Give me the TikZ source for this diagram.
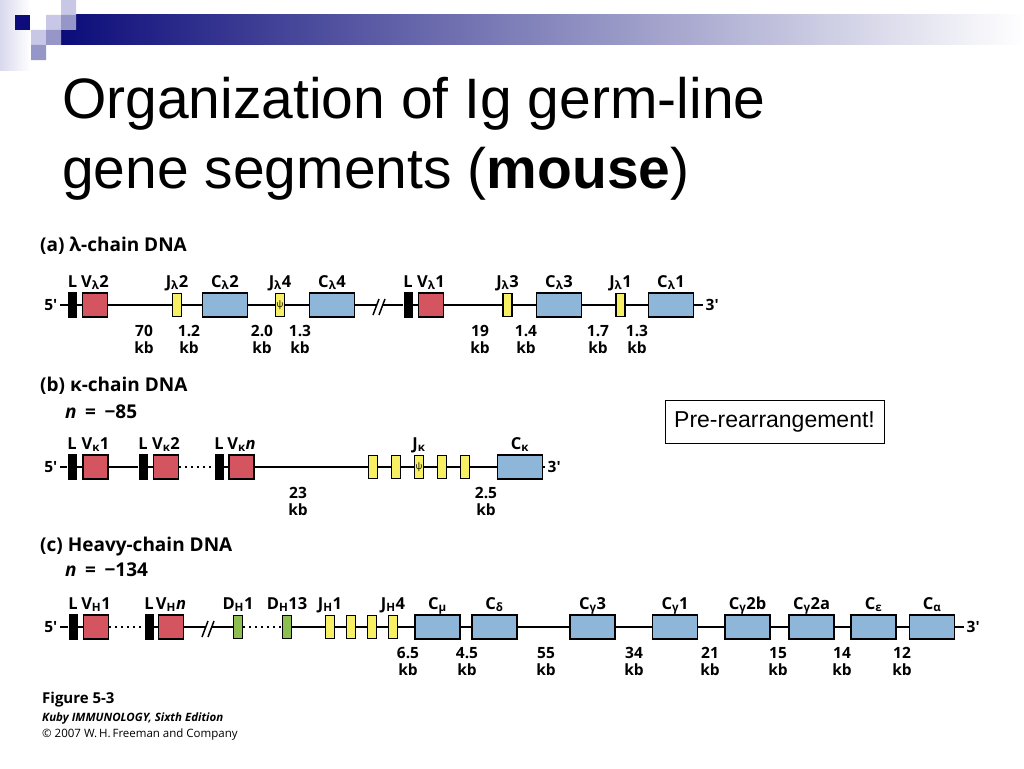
\documentclass[tikz,border=0pt]{standalone}
\usepackage{fontspec}
\setmainfont{Liberation Sans}
\newfontfamily\figfont{Open Sans}
\usepackage{tikz}
\definecolor{navy}{RGB}{12,12,122}
\definecolor{midgrey}{RGB}{150,150,178}
\definecolor{lav}{RGB}{200,200,230}
\definecolor{mlav}{RGB}{150,150,200}
\definecolor{vred}{RGB}{212,84,96}
\definecolor{jyel}{RGB}{247,240,100}
\definecolor{cblu}{RGB}{142,182,216}
\definecolor{dgrn}{RGB}{140,190,80}
\newcommand{\sbs}[1]{\textsubscript{#1}}
\begin{document}
\begin{tikzpicture}[x=1pt,y=-1pt,
  dna/.style={line width=1.8pt},
  dotline/.style={line width=1.6pt,dash pattern=on 1.6pt off 4.4pt},
  seg/.style={draw=black,line width=1.3pt,inner sep=0pt,minimum height=24pt},
  lbar/.style={fill=black,inner sep=0pt,minimum width=9pt,minimum height=26pt},
  vbox/.style={seg,fill=vred,minimum width=25pt},
  jbox/.style={seg,fill=jyel,minimum width=9pt,minimum height=23pt},
  dbox/.style={seg,fill=dgrn,minimum width=9pt,minimum height=23pt},
  cbox/.style={seg,fill=cblu,minimum width=45pt},
  lab/.style={font=\figfont\bfseries\fontsize{16.5}{18}\selectfont,inner sep=0pt,anchor=base},
  dist/.style={font=\figfont\bfseries\fontsize{15.5}{17}\selectfont,inner sep=0pt,align=center},
  prime/.style={font=\figfont\bfseries\fontsize{15.5}{17}\selectfont,inner sep=2.5pt},
  head/.style={font=\figfont\bfseries\fontsize{19}{22}\selectfont,inner sep=0pt,anchor=base west},
  psi/.style={font=\figfont\fontsize{9}{9}\selectfont,inner sep=0pt}]%Ig germ-line, mouse
\useasboundingbox (0,0) rectangle (1024,768);
\fill[white] (0,0) rectangle (1024,768);
\shade[left color=lav!70,right color=white] (0,0) rectangle (30,70);
\shade[left color=navy,middle color=midgrey,right color=white] (61,15) rectangle (1024,45);
\fill[navy] (15,15) rectangle (30,30);
\fill[lav] (61,0) rectangle (76,15) (46,15) rectangle (61,30) (31,30) rectangle (46,45);
\fill[mlav] (61,15) rectangle (76,30) (46,30) rectangle (61,45) (31,45) rectangle (46,60);
\node[anchor=base west,inner sep=0pt,font=\fontsize{57}{70}\selectfont] (title1) at (62,118) {Organization of Ig germ-line};
\node[anchor=base west,inner sep=0pt,font=\fontsize{57}{70}\selectfont] (title2) at (62,188) {gene segments (\textbf{mouse})};

% (a) lambda
\node[head] (ha) at (40,251) {(a) λ-chain DNA};
\node[prime,anchor=east] (fa) at (60,305) {5′};
\node[lbar] (La) at (72.5,305) {};
\node[vbox] (Va2) at (95,305) {};
\node[jbox] (Ja2) at (177,305) {};
\node[cbox] (Ca2) at (225,305) {};
\node[jbox] (Ja4) at (280,305) {};
\node[cbox] (Ca4) at (332,305) {};
\coordinate (ba1) at (376,305);
\coordinate (ba2) at (382,305);
\node[lbar] (La1) at (408,305) {};
\node[vbox] (Va1) at (431,305) {};
\node[jbox] (Ja3) at (507.5,305) {};
\node[cbox] (Ca3) at (559,305) {};
\node[jbox] (Ja1) at (620.5,305) {};
\node[cbox] (Ca1) at (671,305) {};
\node[prime,anchor=west] (ta) at (703,305) {3′};
\node[psi] (psa) at (Ja4) {ψ};
\foreach \a/\b in {fa/La,La/Va2,Va2/Ja2,Ja2/Ca2,Ca2/Ja4,Ja4/Ca4,Ca4/ba1,ba2/La1,La1/Va1,Va1/Ja3,Ja3/Ca3,Ca3/Ja1,Ja1/Ca1,Ca1/ta}
  \draw[dna] (\a) -- (\b);
\draw[line width=1.5pt] ([shift={(-3,10)}]ba1) -- ([shift={(3,-6)}]ba1) ([shift={(-3,10)}]ba2) -- ([shift={(3,-6)}]ba2);
\foreach \n/\t in {La/L,Va2/V\sbs{λ}2,Ja2/J\sbs{λ}2,Ca2/C\sbs{λ}2,Ja4/J\sbs{λ}4,Ca4/C\sbs{λ}4,La1/L,Va1/V\sbs{λ}1,Ja3/J\sbs{λ}3,Ca3/C\sbs{λ}3,Ja1/J\sbs{λ}1,Ca1/C\sbs{λ}1}
  \node[lab] (t\n) at (\n |- 0,287) {\t};
\foreach \x/\d in {144/70,189/1.2,262/2.0,300/1.3,480/19,526/1.4,598/1.7,637/1.3}
  \node[dist] (da\x) at (\x,342) {\strut\d\\\strut kb};

% (b) kappa
\node[head] (hb) at (40,391) {(b) κ-chain DNA};
\node[head] (nb) at (65,418) {\textit{n}\hspace{0.45em}=\hspace{0.45em}−85};
\node[prime,anchor=east] (fb) at (60,467) {5′};
\node[lbar] (Lb1) at (72,467) {};
\node[vbox] (Vb1) at (95.5,467) {};
\node[lbar] (Lb2) at (143,467) {};
\node[vbox] (Vb2) at (166,467) {};
\node[lbar] (Lbn) at (219,467) {};
\node[vbox] (Vbn) at (241.5,467) {};
\foreach \i/\x in {1/373,2/396,3/419,4/442,5/465}
  \node[jbox] (Jb\i) at (\x,467) {};
\node[cbox] (Cb) at (520,467) {};
\node[prime,anchor=west] (tb) at (545,467) {3′};
\node[psi] (psb) at (Jb3) {ψ};
\foreach \a/\b in {fb/Lb1,Lb1/Vb1,Vb1/Lb2,Lb2/Vb2,Lbn/Vbn,Vbn/Jb1,Jb1/Jb2,Jb2/Jb3,Jb3/Jb4,Jb4/Jb5,Jb5/Cb,Cb/tb}
  \draw[dna] (\a) -- (\b);
\draw[dotline] (Vb2) -- (Lbn);
\foreach \n/\t in {Lb1/L,Vb1/V\sbs{κ}1,Lb2/L,Vb2/V\sbs{κ}2,Lbn/L,Vbn/V\sbs{κ}\textit{n},Jb3/J\sbs{κ},Cb/C\sbs{κ}}
  \node[lab] (t\n) at (\n |- 0,449) {\t};
\foreach \x/\d in {298/23,486/2.5}
  \node[dist] (db\x) at (\x,504) {\strut\d\\\strut kb};
\node[draw,line width=1pt,minimum width=219pt,minimum height=43pt,inner sep=0pt,font=\fontsize{23}{27}\selectfont] (pre) at (774.5,421.5) {Pre-rearrangement!};

% (c) heavy chain
\node[head] (hc) at (40,551) {(c) Heavy-chain DNA};
\node[head] (nc) at (65,576) {\textit{n}\hspace{0.45em}=\hspace{0.45em}−134};
\node[prime,anchor=east] (fc) at (60,627) {5′};
\node[lbar] (Lc1) at (73,627) {};
\node[vbox] (Vc1) at (96,627) {};
\node[lbar] (Lc2) at (149,627) {};
\node[vbox] (Vcn) at (171,627) {};
\coordinate (bc1) at (205,627);
\coordinate (bc2) at (211,627);
\node[dbox] (Dc1) at (238,627) {};
\node[dbox] (Dc13) at (287,627) {};
\foreach \i/\x in {1/330,2/351,3/372,4/393}
  \node[jbox] (Jc\i) at (\x,627) {};
\foreach \n/\x in {Cmu/437.5,Cdel/494.5,Cg3/592.5,Cg1/675,Cg2b/747.5,Cg2a/811.5,Ceps/873.5,Calp/932}
  \node[cbox] (\n) at (\x,627) {};
\node[prime,anchor=west] (tc) at (964,627) {3′};
\foreach \a/\b in {fc/Lc1,Lc1/Vc1,Lc2/Vcn,Vcn/bc1,bc2/Dc1,Dc13/Jc1,Jc1/Jc2,Jc2/Jc3,Jc3/Jc4,Jc4/Cmu,Cmu/Cdel,Cdel/Cg3,Cg3/Cg1,Cg1/Cg2b,Cg2b/Cg2a,Cg2a/Ceps,Ceps/Calp,Calp/tc}
  \draw[dna] (\a) -- (\b);
\draw[dotline] (Vc1) -- (Lc2) (Dc1) -- (Dc13);
\draw[line width=1.5pt] ([shift={(-3,10)}]bc1) -- ([shift={(3,-6)}]bc1) ([shift={(-3,10)}]bc2) -- ([shift={(3,-6)}]bc2);
\foreach \n/\t in {Lc1/L,Vc1/V\sbs{H}1,Lc2/L,Vcn/V\sbs{H}\textit{n},Dc1/D\sbs{H}1,Dc13/D\sbs{H}13,Jc1/J\sbs{H}1,Jc4/J\sbs{H}4,Cmu/C\sbs{μ},Cdel/C\sbs{δ},Cg3/C\sbs{γ}3,Cg1/C\sbs{γ}1,Cg2b/C\sbs{γ}2b,Cg2a/C\sbs{γ}2a,Ceps/C\sbs{ε},Calp/C\sbs{α}}
  \node[lab] (t\n) at (\n |- 0,609) {\t};
\foreach \x/\d in {408/6.5,467/4.5,546/55,634/34,710/21,778/15,842/14,902/12}
  \node[dist] (dc\x) at (\x,664) {\strut\d\\\strut kb};

% caption
\node[anchor=base west,inner sep=0pt,font=\figfont\bfseries\fontsize{15}{17}\selectfont] (fig) at (42,703) {Figure 5-3};
\node[anchor=base west,inner sep=0pt,font=\figfont\bfseries\itshape\fontsize{11.5}{14}\selectfont] (kuby) at (42,721) {Kuby IMMUNOLOGY, Sixth Edition};
\node[anchor=base west,inner sep=0pt,font=\figfont\fontsize{11.5}{14}\selectfont] (copy) at (42,737) {© 2007 W.\,H.\,Freeman and Company};
\end{tikzpicture}
\end{document}
